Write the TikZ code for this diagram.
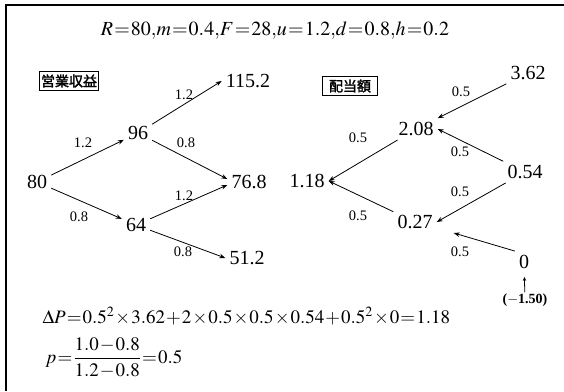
\documentclass[tikz,border=0pt]{standalone}
\usepackage{amsmath}
\usepackage{mathptmx}
\usepackage{fontspec}
\setmainfont{Liberation Serif}
\newfontfamily\jpfont{Noto Sans CJK JP}[AutoFakeBold=2]
\usepackage{tikz}
\usetikzlibrary{arrows.meta}
\newcommand{\tightmath}{\thickmuskip=1mu\medmuskip=1mu\thinmuskip=0mu}

\begin{document}
\begin{tikzpicture}[x=1pt, y=-1pt,
  num/.style={inner sep=4pt, font=\fontsize{20}{23}\selectfont},
  lab/.style={inner sep=1pt, font=\fontsize{14.5}{17}\selectfont},
  tag/.style={draw, line width=0.9pt, inner xsep=1.5pt, inner ysep=3pt, font=\jpfont\bfseries\fontsize{14}{17}\selectfont},
  arr/.style={line width=0.8pt, -{Stealth[length=6pt, width=4.5pt]}}]
\useasboundingbox (0,0) rectangle (564,391);
\draw[line width=1.3pt] (6,391) -- (6,5) -- (564,5);
\node[font=\fontsize{20}{23}\selectfont\tightmath] (ttl) at (275,31) {$R=80,m=0.4,F=28,u=1.2,d=0.8,h=0.2$};
% operating revenue
\node[tag] (rev) at (69,81) {営業収益};
\node[num] (r0) at (37,182) {80};
\node[num] (ru) at (138,133) {96};
\node[num] (rd) at (136,225) {64};
\node[num] (ruu) at (248,81) {115.2};
\node[num] (rud) at (249,182) {76.8};
\node[num] (rdd) at (247,258) {51.2};
\node[lab] (l1) at (83,143) {1.2};
\node[lab] (l2) at (79,217) {0.8};
\node[lab] (l3) at (184,95) {1.2};
\node[lab] (l4) at (186,143) {0.8};
\node[lab] (l5) at (184,196) {1.2};
\node[lab] (l6) at (183,252) {0.8};
\draw[arr] (r0) -- (ru); \draw[arr] (r0) -- (rd);
\draw[arr] (ru) -- (ruu.west); \draw[arr] (ru) -- ([yshift=3pt]rud.west);
\draw[arr] (rd) -- ([yshift=-3pt]rud.west); \draw[arr] (rd) -- (rdd.west);
% dividend
\node[tag, minimum width=55pt] (div) at (350,86) {配当額};
\node[num] (d0) at (307,181) {1.18};
\node[num] (du) at (416,129) {2.08};
\node[num] (dd) at (415,222) {0.27};
\node[num] (duu) at (528,73) {3.62};
\node[num] (dud) at (525,172) {0.54};
\node[num] (ddd) at (524,262) {0};
\node[inner sep=1pt, font=\bfseries\fontsize{14}{16}\selectfont] (fee) at (525,300) {($-$1.50)};
\node[lab] (m1) at (461,92) {0.5};
\node[lab] (m2) at (358,138) {0.5};
\node[lab] (m3) at (460,152) {0.5};
\node[lab] (m4) at (460,192) {0.5};
\node[lab] (m5) at (358,216) {0.5};
\node[lab] (m6) at (460,252) {0.5};
\draw[arr] (duu) -- (du); \draw[arr] (dud) -- (du.east);
\draw[arr] (du) -- (d0.east); \draw[arr] (dd) -- (d0.east);
\draw[arr] (dud) -- (dd.east); \draw[arr] (ddd.north west) -- ([xshift=17pt]dd.south east);
\draw[line width=0.8pt, -{Stealth[length=4pt, width=3.5pt]}, shorten >=4pt] (fee) -- (ddd);
% formulas
\node[anchor=west, font=\fontsize{19}{22}\selectfont\tightmath] (dp) at (39,316) {$\Delta P=0.5^2\times3.62+2\times0.5\times0.5\times0.54+0.5^2\times0=1.18$};
\node[anchor=west, font=\fontsize{19}{22}\selectfont\tightmath] (pp) at (42,358) {$p=\dfrac{1.0-0.8}{1.2-0.8}=0.5$};
\end{tikzpicture}
\end{document}
